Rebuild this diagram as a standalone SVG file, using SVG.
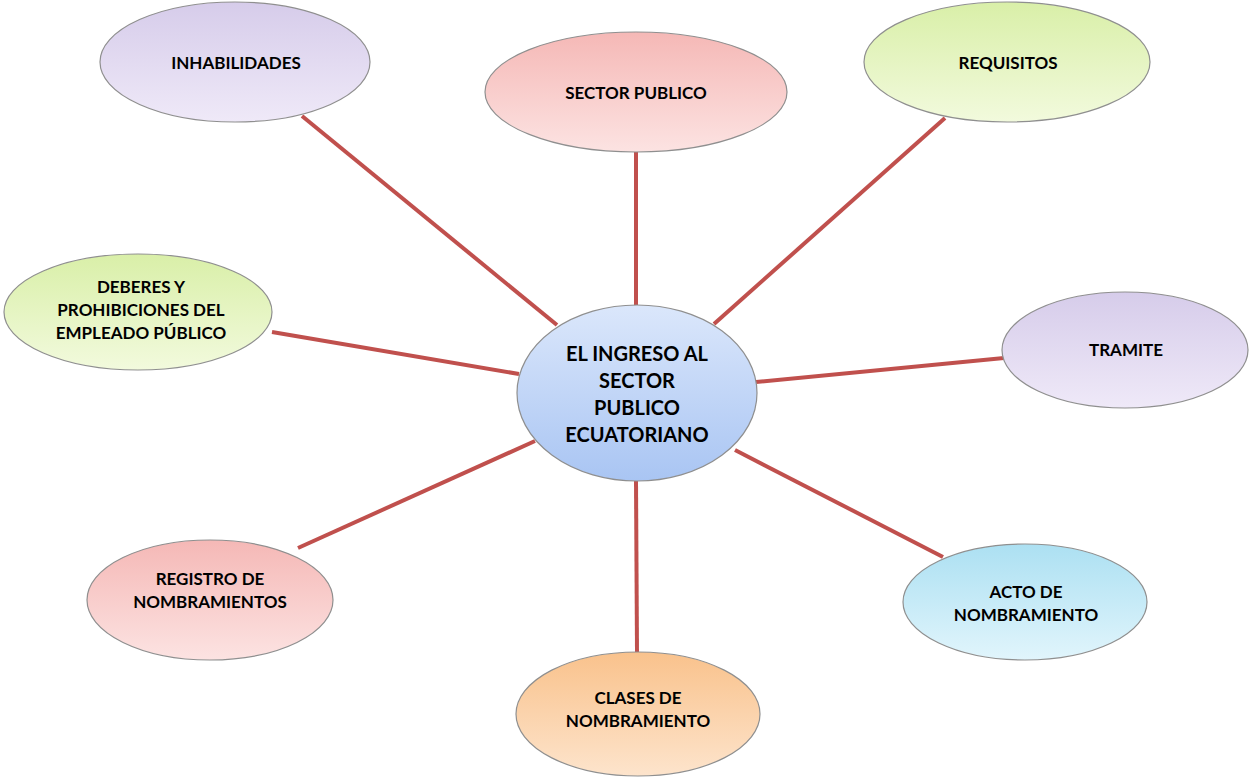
<svg xmlns="http://www.w3.org/2000/svg" width="1249" height="779" viewBox="0 0 1249 779">
<style>
.n{stroke:#8f8f8f;stroke-width:1.2}
.t{font-family:Lato,"Liberation Sans",sans-serif;font-weight:bold;font-size:17px;fill:#000;text-anchor:middle;dominant-baseline:central}
.tc{font-size:20px}
.c line{stroke:#c0504d;stroke-width:4}
</style>
<defs>
<linearGradient id="gp" x1="0" y1="0" x2="0" y2="1"><stop offset="0" stop-color="#d6ccea"/><stop offset="1" stop-color="#efe9f8"/></linearGradient>
<linearGradient id="gr" x1="0" y1="0" x2="0" y2="1"><stop offset="0" stop-color="#f5b8b6"/><stop offset="1" stop-color="#fce3e2"/></linearGradient>
<linearGradient id="gg" x1="0" y1="0" x2="0" y2="1"><stop offset="0" stop-color="#d9efa8"/><stop offset="1" stop-color="#f2fadd"/></linearGradient>
<linearGradient id="gb" x1="0" y1="0" x2="0" y2="1"><stop offset="0" stop-color="#dbe7fb"/><stop offset="1" stop-color="#a9c5f3"/></linearGradient>
<linearGradient id="gc" x1="0" y1="0" x2="0" y2="1"><stop offset="0" stop-color="#ace0f2"/><stop offset="1" stop-color="#e1f5fc"/></linearGradient>
<linearGradient id="go" x1="0" y1="0" x2="0" y2="1"><stop offset="0" stop-color="#f9c28c"/><stop offset="1" stop-color="#fde4cc"/></linearGradient>
</defs>
<rect width="1249" height="779" fill="#fff"/>
<g id="connectors" class="c">
<line x1="302" y1="116" x2="557" y2="325"/>
<line x1="636" y1="152" x2="636" y2="306"/>
<line x1="945" y1="118" x2="714" y2="324"/>
<line x1="272" y1="332" x2="519" y2="374"/>
<line x1="1004" y1="358" x2="756" y2="382"/>
<line x1="298" y1="548" x2="535" y2="441"/>
<line x1="943" y1="557" x2="735" y2="450"/>
<line x1="636" y1="481" x2="637" y2="652"/>
</g>
<g id="inhabilidades"><ellipse class="n" cx="235" cy="62" rx="135" ry="60" fill="url(#gp)"/><text class="t" x="236" y="62">INHABILIDADES</text></g>
<g id="sector-publico"><ellipse class="n" cx="636" cy="92" rx="151" ry="60" fill="url(#gr)"/><text class="t" x="636" y="92">SECTOR PUBLICO</text></g>
<g id="requisitos"><ellipse class="n" cx="1007" cy="62" rx="143" ry="60" fill="url(#gg)"/><text class="t" x="1008" y="62">REQUISITOS</text></g>
<g id="deberes"><ellipse class="n" cx="138" cy="312" rx="134" ry="58" fill="url(#gg)"/><text class="t" x="141" y="286">DEBERES Y</text><text class="t" x="141" y="309">PROHIBICIONES DEL</text><text class="t" x="141" y="332">EMPLEADO PÚBLICO</text></g>
<g id="centro"><ellipse class="n" cx="637" cy="393" rx="120" ry="88" fill="url(#gb)"/><text class="t tc" x="637" y="353">EL INGRESO AL</text><text class="t tc" x="637" y="380">SECTOR</text><text class="t tc" x="637" y="407">PUBLICO</text><text class="t tc" x="637" y="434">ECUATORIANO</text></g>
<g id="tramite"><ellipse class="n" cx="1125" cy="350" rx="123" ry="58" fill="url(#gp)"/><text class="t" x="1126" y="349">TRAMITE</text></g>
<g id="registro"><ellipse class="n" cx="210" cy="600" rx="123" ry="60" fill="url(#gr)"/><text class="t" x="210" y="578">REGISTRO DE</text><text class="t" x="210" y="601">NOMBRAMIENTOS</text></g>
<g id="acto"><ellipse class="n" cx="1025" cy="602" rx="122" ry="58" fill="url(#gc)"/><text class="t" x="1026" y="591">ACTO DE</text><text class="t" x="1026" y="614">NOMBRAMIENTO</text></g>
<g id="clases"><ellipse class="n" cx="638" cy="714" rx="122" ry="62" fill="url(#go)"/><text class="t" x="638" y="697">CLASES DE</text><text class="t" x="638" y="720">NOMBRAMIENTO</text></g>
</svg>
